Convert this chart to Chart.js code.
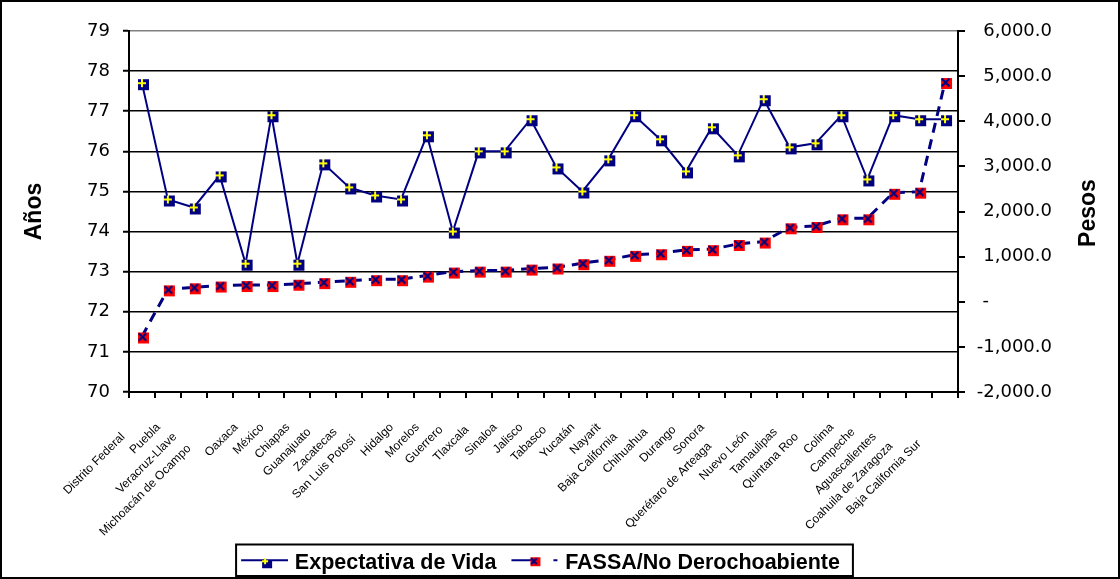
<!DOCTYPE html>
<html>
<head>
<meta charset="utf-8">
<script src="https://cdn.jsdelivr.net/npm/chart.js@4/dist/chart.umd.min.js"></script>
<style>
html,body{margin:0;padding:0;background:#fff;}
#wrap{width:1120px;height:579px;overflow:hidden;}
</style>
</head>
<body>
<div id="wrap"><canvas id="c" width="1120" height="579"></canvas></div>
<script>
// ---------- data ----------
const categories = ['Distrito Federal','Puebla','Veracruz-Llave','Michoacán de Ocampo','Oaxaca','México','Chiapas','Guanajuato','Zacatecas','San Luis Potosí','Hidalgo','Morelos','Guerrero','Tlaxcala','Sinaloa','Jalisco','Tabasco','Yucatán','Nayarit','Baja California','Chihuahua','Durango','Sonora','Querétaro de Arteaga','Nuevo León','Tamaulipas','Quintana Roo','Colima','Campeche','Aguascalientes','Coahuila de Zaragoza','Baja California Sur'];
const expectativaVida = [77.7,74.8,74.6,75.4,73.2,76.9,73.2,75.7,75.1,74.9,74.8,76.4,74.0,76.0,76.0,76.8,75.6,75.0,75.8,76.9,76.3,75.5,76.6,75.9,77.3,76.1,76.2,76.9,75.3,76.9,76.8,76.8];
const fassaNoDerecho = [-770,275,320,360,370,370,400,435,465,500,500,580,670,690,690,735,760,855,930,1040,1075,1150,1165,1280,1335,1650,1680,1850,1850,2415,2440,4870];
const seriesNames = ['Expectativa de Vida','FASSA/No Derochoabiente'];
const leftAxisTitle = 'Años';
const rightAxisTitle = 'Pesos';

// ---------- marker images ----------
const NAVY = '#000080';
function mk(w, h, fn){ const c = document.createElement('canvas'); c.width = w; c.height = h; fn(c.getContext('2d')); return c; }
function plus(ctx, cx, cy, r){ ctx.strokeStyle = '#FFFF00'; ctx.lineWidth = 2; ctx.beginPath(); ctx.moveTo(cx - r, cy); ctx.lineTo(cx + r, cy); ctx.moveTo(cx, cy - r); ctx.lineTo(cx, cy + r); ctx.stroke(); }
function cross(ctx, cx, cy, r){ ctx.strokeStyle = NAVY; ctx.lineWidth = 2.2; ctx.beginPath(); ctx.moveTo(cx - r, cy - r); ctx.lineTo(cx + r, cy + r); ctx.moveTo(cx + r, cy - r); ctx.lineTo(cx - r, cy + r); ctx.stroke(); }
const marker1 = mk(16, 16, ctx => { ctx.fillStyle = NAVY; ctx.fillRect(4, 4, 11, 11); plus(ctx, 8, 8, 4); });
const marker2 = mk(16, 16, ctx => { ctx.fillStyle = '#FF0000'; ctx.fillRect(4, 4, 11, 11); cross(ctx, 8.5, 8.5, 3.8); });
const legend1 = mk(56, 22, ctx => {
  ctx.strokeStyle = NAVY; ctx.lineWidth = 2; ctx.beginPath(); ctx.moveTo(9, 8); ctx.lineTo(56, 8); ctx.stroke();
  ctx.fillStyle = NAVY; ctx.fillRect(30, 7, 10, 9); plus(ctx, 33, 9, 3);
});
const legend2 = mk(56, 22, ctx => {
  ctx.strokeStyle = NAVY; ctx.lineWidth = 2; ctx.beginPath(); ctx.moveTo(9, 8); ctx.lineTo(29, 8); ctx.moveTo(51, 8); ctx.lineTo(55, 8); ctx.stroke();
  ctx.fillStyle = '#FF0000'; ctx.fillRect(28, 5, 10, 9); cross(ctx, 31.5, 9, 3);
});

// ---------- helpers ----------
const mctx = document.createElement('canvas').getContext('2d');
mctx.font = '12px "Liberation Sans", Arial, sans-serif';
const spaceW = mctx.measureText(' ').width;
function padLabel(lab){
  const w = mctx.measureText(lab).width;
  const n = Math.max(0, Math.round((0.36 * w - 1) / spaceW));
  return lab + ' '.repeat(n);
}
function fmtPesos(v){
  if (Math.abs(v) < 1e-9) return '-' + ' '.repeat(11);
  const neg = v < 0; const a = Math.abs(v).toFixed(1);
  const [i, d] = a.split('.');
  const s = i.replace(/\B(?=(\d{3})+(?!\d))/g, ',') + '.' + d;
  return (neg ? '-' : '') + s;
}

const frame = {
  id: 'frame',
  beforeDraw(chart){ const c = chart.ctx; c.save(); c.fillStyle = '#fff'; c.fillRect(0, 0, chart.width, chart.height); c.restore(); },
  afterDraw(chart){
    const c = chart.ctx; c.save();
    c.strokeStyle = '#000'; c.lineWidth = 2;
    c.strokeRect(1, 1, chart.width - 2, chart.height - 2);
    const hb = chart.legend.legendHitBoxes;
    if (hb && hb.length){
      const l = hb[0].left, r = hb[hb.length - 1].left + hb[hb.length - 1].width + 13;
      const t = hb[0].top - 8, b = hb[0].top + hb[0].height + 2;
      c.strokeRect(l, t, r - l, b - t);
    }
    c.fillStyle = '#000';
    c.font = 'bold 23px "Liberation Sans", Arial, sans-serif';
    c.textAlign = 'center'; c.textBaseline = 'middle';
    c.translate(1089, 213); c.rotate(-Math.PI / 2);
    c.fillText(rightAxisTitle, 0, 0);
    c.restore();
  }
};

const tickFont = {family: '"DejaVu Sans", sans-serif', size: 18};

new Chart(document.getElementById('c'), {
  type: 'line',
  data: {
    labels: categories,
    datasets: [
      {label: seriesNames[0], data: expectativaVida, yAxisID: 'y', borderColor: NAVY, borderWidth: 2, tension: 0,
       pointStyle: marker1, pointRadius: 5, backgroundColor: NAVY},
      {label: seriesNames[1], data: fassaNoDerecho, yAxisID: 'y2', borderColor: NAVY, borderWidth: 3, borderDash: [10, 7], tension: 0,
       pointStyle: marker2, pointRadius: 5, backgroundColor: '#FF0000'}
    ]
  },
  options: {
    responsive: false, animation: false, devicePixelRatio: 1, events: [],
    layout: {padding: {top: 31, left: 24, right: 68, bottom: -5}},
    plugins: {
      tooltip: {enabled: false},
      legend: {
        position: 'bottom', align: 'center',
        labels: {
          usePointStyle: true, pointStyleWidth: 48, padding: 10, color: '#000',
          font: {family: '"Liberation Sans", Arial, sans-serif', size: 21.5, weight: 'bold'},
          generateLabels(chart){
            const items = Chart.defaults.plugins.legend.labels.generateLabels(chart);
            items.forEach((it, i) => { it.pointStyle = i === 0 ? legend1 : legend2; });
            return items;
          }
        }
      }
    },
    scales: {
      x: {
        offset: true,
        grid: {display: true, drawOnChartArea: false, drawTicks: true, tickLength: 6, offset: true, color: '#000', lineWidth: 2},
        border: {color: '#000', width: 2},
        ticks: {autoSkip: false, maxRotation: 45, minRotation: 45, padding: 13, color: '#000',
          font: {family: '"Liberation Sans", Arial, sans-serif', size: 12},
          callback(value){ return padLabel(this.getLabelForValue(value)); }},
        afterFit(s){ s.height = 150.5; }
      },
      y: {
        position: 'left', min: 70, max: 79,
        ticks: {stepSize: 1, color: '#000', font: tickFont, padding: 13},
        grid: {color: ctx => (ctx.tick && ctx.tick.value === 79) ? '#808080' : '#000', lineWidth: 1.5, tickLength: 6, tickColor: '#000', tickWidth: 2},
        border: {color: '#000', width: 2},
        title: {display: true, text: leftAxisTitle, color: '#000', padding: {top: -3, bottom: 0},
          font: {family: '"Liberation Sans", Arial, sans-serif', size: 23, weight: 'bold'}},
        afterFit(s){ s.width = 105; }
      },
      y2: {
        position: 'right', min: -2000, max: 6000,
        ticks: {stepSize: 1000, color: '#000', font: tickFont, padding: 12, crossAlign: 'far', callback: v => fmtPesos(v)},
        grid: {drawOnChartArea: false, tickLength: 7, color: '#000', lineWidth: 2},
        border: {color: '#000', width: 2},
        afterFit(s){ s.width = 94; }
      }
    }
  },
  plugins: [frame]
});
</script>
</body>
</html>
